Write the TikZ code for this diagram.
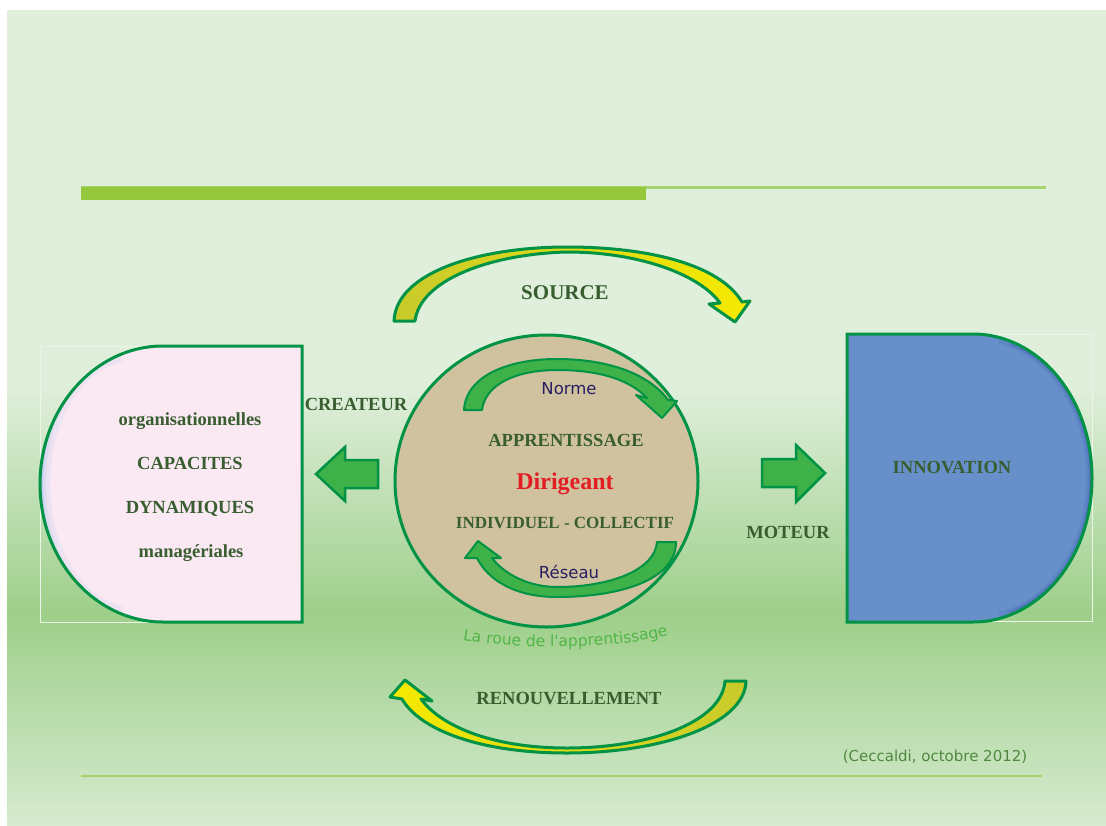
\documentclass[tikz,border=0pt]{standalone}
\usepackage{fontspec}
\setmainfont{Liberation Serif}
\newfontfamily\vfont{DejaVu Sans}
\usetikzlibrary{shapes.geometric,decorations.text}
\definecolor{bgtop}{RGB}{224,239,220}
\definecolor{bgmid}{RGB}{158,207,138}
\definecolor{bgbot}{RGB}{214,234,207}
\definecolor{txtgreen}{RGB}{56,94,48}
\definecolor{bordgreen}{RGB}{0,146,69}
\definecolor{arrgreen}{RGB}{62,178,72}
\definecolor{pinkfill}{RGB}{250,232,242}
\definecolor{pinkshadow}{RGB}{175,200,240}
\definecolor{bluefill}{RGB}{103,144,203}
\definecolor{blueshadow}{RGB}{45,75,165}
\definecolor{tanfill}{RGB}{208,194,158}
\definecolor{bargreen}{RGB}{149,200,61}
\definecolor{linegreen}{RGB}{165,212,110}
\definecolor{citegreen}{RGB}{80,136,64}
\definecolor{rouegreen}{RGB}{80,182,70}
\definecolor{navytxt}{RGB}{40,30,100}
\definecolor{redtxt}{RGB}{226,30,36}
\definecolor{olivey}{RGB}{200,202,44}
\definecolor{brighty}{RGB}{246,234,0}
\definecolor{framecol}{RGB}{236,246,232}
% only the 25bp..75bp part is mapped onto the path
\pgfdeclareverticalshading{bgsh}{100bp}{color(0bp)=(bgbot); color(25bp)=(bgbot); color(38bp)=(bgmid); color(52bp)=(bgtop); color(100bp)=(bgtop)}
\tikzset{
  lbl/.style={font=\fontsize{18.5}{20}\selectfont\bfseries, text=txtgreen, inner sep=0pt, text depth=0pt},
  sanslbl/.style={font=\vfont\fontsize{16.5}{18}\selectfont, text=navytxt, inner sep=0pt, text depth=0pt},
  blockarrow/.style={fill=arrgreen, draw=bordgreen, line width=2.5pt, line join=miter},
  innerarrow/.style={fill=arrgreen, draw=bordgreen, line width=2pt, line join=round},
  bigarrow/.style={draw=bordgreen, line width=3pt, line join=round},
  framebox/.style={draw=framecol, line width=0.8pt}
}
\begin{document}
\begin{tikzpicture}[x=1pt,y=-1pt]
\useasboundingbox (0,0) rectangle (1106,825);
\fill[white] (0,0) rectangle (1106,825);
\shade[shading=bgsh] (7,10) rectangle (1106,825);
% top bars
\fill[linegreen] (81,186) rectangle (1046,188.5);
\fill[bargreen] (81,187) rectangle (646,200);
% bottom line
\fill[linegreen] (81,775) rectangle (1042,777);

% ---------- left shape ----------
\draw[framebox] (40,346) rectangle (302,622);
\path[fill=pinkfill] (302,346) -- (163,346) .. controls (95,346) and (40,408) .. (40,484) .. controls (40,560) and (95,622) .. (163,622) -- (302,622) -- cycle;
\begin{scope}
\clip (302,346) -- (163,346) .. controls (95,346) and (40,408) .. (40,484) .. controls (40,560) and (95,622) .. (163,622) -- (302,622) -- cycle;
\draw[pinkshadow, line width=20pt, opacity=.18] (120,352) .. controls (75,362) and (40,415) .. (40,484) .. controls (40,553) and (75,606) .. (120,616);
\draw[pinkshadow, line width=12pt, opacity=.25] (110,355) .. controls (70,368) and (40,420) .. (40,484) .. controls (40,548) and (70,600) .. (110,613);
\draw[pinkshadow!85!blue, line width=6pt, opacity=.3] (100,360) .. controls (65,375) and (40,425) .. (40,484) .. controls (40,543) and (65,593) .. (100,608);
\end{scope}
\draw[draw=bordgreen, line width=3pt, line join=miter] (302,346) -- (163,346) .. controls (95,346) and (40,408) .. (40,484) .. controls (40,560) and (95,622) .. (163,622) -- (302,622) -- cycle;

% ---------- right shape ----------
\draw[framebox] (847,334) rectangle (1092,621);
\path[fill=bluefill] (847,334) -- (973,334) .. controls (1039,334) and (1092,398) .. (1092,478) .. controls (1092,558) and (1039,622) .. (973,622) -- (847,622) -- cycle;
\begin{scope}
\clip (847,334) -- (973,334) .. controls (1039,334) and (1092,398) .. (1092,478) .. controls (1092,558) and (1039,622) .. (973,622) -- (847,622) -- cycle;
\draw[blueshadow, line width=12pt, opacity=.12] (1000,338) .. controls (1055,352) and (1092,410) .. (1092,478) .. controls (1092,546) and (1055,604) .. (1000,618);
\draw[blueshadow, line width=7pt, opacity=.2] (1010,342) .. controls (1060,360) and (1092,415) .. (1092,478) .. controls (1092,541) and (1060,596) .. (1010,614);
\draw[blueshadow, line width=3.5pt, opacity=.3] (1020,346) .. controls (1065,368) and (1092,420) .. (1092,478) .. controls (1092,536) and (1065,588) .. (1020,610);
\end{scope}
\draw[draw=bordgreen, line width=3pt, line join=miter] (847,334) -- (973,334) .. controls (1039,334) and (1092,398) .. (1092,478) .. controls (1092,558) and (1039,622) .. (973,622) -- (847,622) -- cycle;

% ---------- central wheel ----------
\node[ellipse, fill=tanfill, draw=bordgreen, line width=3pt, minimum width=303pt, minimum height=292pt, inner sep=0pt] (roue) at (546.5,481) {};

% inner arrows
\path[innerarrow] (464,410) .. controls (466,375) and (510,359) .. (557,359) .. controls (610,359) and (650,375) .. (668,400) -- (677,401) -- (662,418) -- (636,395) -- (647,398) .. controls (630,380) and (600,370) .. (557,370) .. controls (515,370) and (485,385) .. (482,410) -- cycle;
\path[innerarrow] (676,542) .. controls (676,580) and (620,597) .. (557,597) .. controls (515,597) and (488,580) .. (477,558) -- (465,558) -- (478,541) -- (501,558) -- (492,558) .. controls (505,575) and (530,587) .. (557,587) .. controls (610,587) and (655,570) .. (657,542) -- cycle;

\node[sanslbl] (norme) at (569,388) {Norme};
\node[lbl] (appr) at (566,440) {APPRENTISSAGE};
\node[font=\fontsize{24}{26}\selectfont\bfseries, text=redtxt, inner sep=0pt] (dirig) at (565,484) {Dirigeant};
\node[lbl, font=\fontsize{17}{19}\selectfont\bfseries] (indiv) at (565,523) {INDIVIDUEL - COLLECTIF};
\node[sanslbl] (reseau) at (569,572) {Réseau};

% roue label
\coordinate (rl) at (461,640);
\coordinate (rr) at (670,635);
\path[decorate, decoration={text along path, text align=center, text color=rouegreen,
  text={|\vfont\fontsize{15.5}{17}\selectfont|La roue de l'apprentissage}}]
  (rl) .. controls (525,650) and (615,649) .. (rr);

% ---------- block arrows ----------
\path[blockarrow] (378,460) -- (345,460) -- (345,447) -- (316,474) -- (345,501) -- (345,488) -- (378,488) -- cycle;
\path[blockarrow] (762,459) -- (796,459) -- (796,445) -- (825,473) -- (796,502) -- (796,487) -- (762,487) -- cycle;

% ---------- big curved arrows ----------
\path[bigarrow, left color=olivey, right color=brighty]
 (394,321) .. controls (396,272) and (480,247) .. (567,247) .. controls (650,247) and (720,265) .. (742,302)
 -- (750,301) -- (735,322) -- (709,304) -- (720,303)
 .. controls (700,275) and (640,252) .. (567,252) .. controls (490,254) and (420,280) .. (415,321) -- cycle;
\path[bigarrow, left color=brighty, right color=olivey]
 (746,681) .. controls (745,725) and (660,753) .. (567,753) .. controls (480,753) and (420,730) .. (402,699)
 -- (390,697) -- (405,680) -- (432,701) -- (421,699)
 .. controls (440,725) and (490,748) .. (567,748) .. controls (650,748) and (722,722) .. (725,681) -- cycle;

% ---------- labels ----------
\node[lbl, font=\fontsize{21}{23}\selectfont\bfseries] (source) at (565,293) {SOURCE};
\node[lbl] (renouv) at (569,698) {RENOUVELLEMENT};
\node[lbl] (createur) at (356,404) {CREATEUR};
\node[lbl] (moteur) at (788,532) {MOTEUR};
\node[lbl] (innov) at (952,467) {INNOVATION};
\node[lbl] (orga) at (190,419) {organisationnelles};
\node[lbl] (capa) at (190,463) {CAPACITES};
\node[lbl] (dyna) at (190,507) {DYNAMIQUES};
\node[lbl] (mana) at (191,551) {managériales};
\node[font=\vfont\fontsize{15}{17}\selectfont, text=citegreen, inner sep=0pt] (cite) at (935,757) {(Ceccaldi, octobre 2012)};
\end{tikzpicture}
\end{document}
